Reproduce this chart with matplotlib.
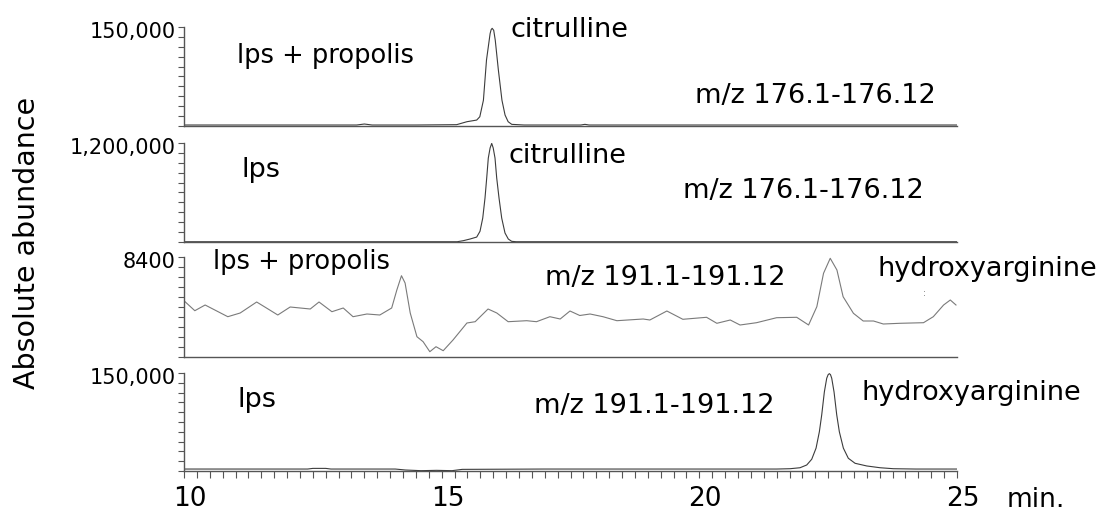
import matplotlib
matplotlib.use('Agg')
import matplotlib.pyplot as plt
import numpy as np
from matplotlib.ticker import MultipleLocator, FixedLocator
from matplotlib.transforms import ScaledTranslation

# ---------------- data ----------------
# Panel 1: lps + propolis, m/z 176.1-176.12 (citrulline)
p1_time = [10.0, 12.0, 13.35, 13.5, 13.65, 14.5, 15.29, 15.49, 15.68, 15.74, 15.81,
           15.87, 15.94, 15.96, 15.98, 16.01, 16.04, 16.10, 16.17, 16.23, 16.29, 16.36, 16.6,
           17.7, 17.78, 17.86, 20.0, 25.0]
p1_abund = [1500, 1500, 1500, 3000, 1500, 1500, 2000, 6500, 9000, 14000, 39000,
            100000, 140000, 146000, 148000, 145000, 130000, 85000, 39000, 16600, 6500, 2500, 1500,
            1500, 2500, 1500, 1500, 1500]

# Panel 2: lps, m/z 176.1-176.12 (citrulline)
p2_time = [10.0, 15.30, 15.42, 15.55, 15.68, 15.744, 15.797, 15.841, 15.874, 15.905,
           15.94, 15.971, 16.00, 16.035, 16.068, 16.113, 16.165, 16.229, 16.293, 16.359, 16.45, 25.0]
p2_abund = [3000, 3000, 16000, 36000, 60000, 130000, 290000, 533000, 776000, 1018000,
            1140000, 1195000, 1140000, 1018000, 776000, 533000, 290000, 109000, 36000, 8000, 3000, 3000]

# Panel 3: lps + propolis, m/z 191.1-191.12 (hydroxyarginine)
p3_time = [10.02, 10.21, 10.41, 10.85, 11.09, 11.41, 11.60, 11.82, 12.06, 12.45,
           12.62, 12.87, 13.09, 13.28, 13.55, 13.80, 14.03, 14.13, 14.22, 14.29,
           14.39, 14.52, 14.64, 14.77, 14.89, 15.03, 15.22, 15.49, 15.65, 15.90,
           16.07, 16.29, 16.65, 16.84, 17.10, 17.30, 17.49, 17.68, 17.88, 18.13,
           18.40, 18.91, 19.04, 19.37, 19.68, 20.14, 20.34, 20.60, 20.79, 21.11,
           21.50, 21.89, 22.12, 22.28, 22.41, 22.54, 22.67, 22.79, 22.99, 23.18,
           23.38, 23.57, 23.89, 24.35, 24.54, 24.74, 24.87, 24.98]
p3_abund = [4645, 3889, 4368, 3385, 3696, 4620, 4116, 3528, 4200, 4032,
            4620, 3805, 4116, 3385, 3612, 3528, 4116, 5628, 6829, 6216,
            3696, 1705, 1285, 445, 865, 529, 1428, 2856, 2965, 4032,
            3696, 2965, 3049, 2965, 3385, 3192, 3864, 3486, 3612, 3385,
            3049, 3192, 3108, 3864, 3167, 3335, 2831, 3108, 2688, 2881,
            3301, 3335, 2688, 4225, 7031, 8291, 7308, 5065, 3671, 3024,
            3024, 2772, 2831, 2881, 3385, 4368, 4788, 4368]

# Panel 4: lps, m/z 191.1-191.12 (hydroxyarginine)
p4_time = [10.0, 12.40, 12.50, 12.75, 12.85, 14.10, 14.30, 14.60, 14.90, 15.20,
           15.40, 17.0, 20.0, 21.50, 21.76, 21.954, 22.084, 22.181, 22.265, 22.329,
           22.375, 22.426, 22.472, 22.50, 22.523, 22.545, 22.569, 22.614, 22.666, 22.717, 22.795,
           22.891, 23.022, 23.249, 23.507, 23.765, 24.2, 25.0]
p4_abund = [3000, 3000, 4000, 4000, 3000, 3000, 1500, 500, 1000, 500,
            2500, 3000, 3000, 3000, 3500, 5000, 9200, 18000, 35000, 60000,
            86000, 121000, 142000, 147500, 149000, 147500, 142000, 121000, 86000, 60000, 35000,
            19500, 11800, 7700, 5000, 3500, 3000, 3000]

y_max = [150000, 1200000, 8400, 150000]
y_top_labels = ['150,000', '1,200,000', '8400', '150,000']
x_major = [10, 15, 20, 25]
x_major_labels = ['10', '15', '20', '25']

# ---------------- figure ----------------
W, H = 1120, 513
fig = plt.figure(figsize=(W / 100, H / 100), dpi=100)
plt.rcParams['font.family'] = ['DejaVu Sans']

left_px, right_px = 184, 957
panels_px = [(27, 126), (143, 242), (257, 357), (373, 471)]
series = [(p1_time, p1_abund, '#3c3c3c'),
          (p2_time, p2_abund, '#3c3c3c'),
          (p3_time, p3_abund, '#7a7a7a'),
          (p4_time, p4_abund, '#3c3c3c')]

axes = []
for i, ((top, bot), (t, v, col)) in enumerate(zip(panels_px, series)):
    ax = fig.add_axes([left_px / W, 1 - bot / H, (right_px - left_px) / W, (bot - top) / H])
    ax.plot(t, v, color=col, lw=0.8, solid_joinstyle='round')
    ax.set_xlim(10, 25)
    ax.set_ylim(0, y_max[i])
    ax.patch.set_alpha(0)
    for s in ['top', 'right']:
        ax.spines[s].set_visible(False)
    for s in ['left', 'bottom']:
        ax.spines[s].set_color('#555555')
        ax.spines[s].set_linewidth(1.0)
    ax.yaxis.set_major_locator(FixedLocator(np.linspace(0, y_max[i], 11)))
    ax.set_yticklabels([''] * 10 + [y_top_labels[i]])
    ax.tick_params(axis='y', direction='out', length=4, width=0.8, color='#555555',
                   labelsize=15, pad=2)
    for lab in ax.get_yticklabels():
        lab.set_transform(lab.get_transform() + ScaledTranslation(0, -3 / 100, fig.dpi_scale_trans))
    if i < 3:
        ax.tick_params(axis='x', bottom=False, labelbottom=False)
    axes.append(ax)

ax4 = axes[3]
ax4.set_xticks(x_major)
ax4.set_xticklabels(x_major_labels)
ax4.xaxis.set_minor_locator(MultipleLocator(0.25))
ax4.tick_params(axis='x', which='both', direction='out', length=5, width=0.8,
                color='#555555', labelsize=19, pad=6)
for lab in ax4.get_xticklabels():
    lab.set_transform(lab.get_transform() + ScaledTranslation(6 / 100, 0, fig.dpi_scale_trans))


def ftext(x, y, s, size=19.5, **kw):
    fig.text(x / W, 1 - y / H, s, fontsize=size, ha='left', va='baseline', **kw)


ftext(237, 63, 'lps + propolis', size=18.5)
ftext(510, 37, 'citrulline')
ftext(695, 103, 'm/z 176.1-176.12')
ftext(242, 177, 'lps')
ftext(508, 163, 'citrulline')
ftext(683, 198, 'm/z 176.1-176.12')
ftext(213, 269, 'lps + propolis', size=18.5)
ftext(545, 285, 'm/z 191.1-191.12')
ftext(878, 276, 'hydroxyarginine')
ftext(237, 407, 'lps')
ftext(534, 413, 'm/z 191.1-191.12')
ftext(862, 400, 'hydroxyarginine')
ftext(1007, 507, 'min.', size=19)
fig.text(924 / W, 1 - 294 / H, ':', fontsize=6, color='#555555', ha='center', va='center')

fig.text(27 / W, 1 - 242.5 / H, 'Absolute abundance', rotation=90, fontsize=20.5,
         ha='center', va='center')

fig.savefig('out.png', dpi=100)
